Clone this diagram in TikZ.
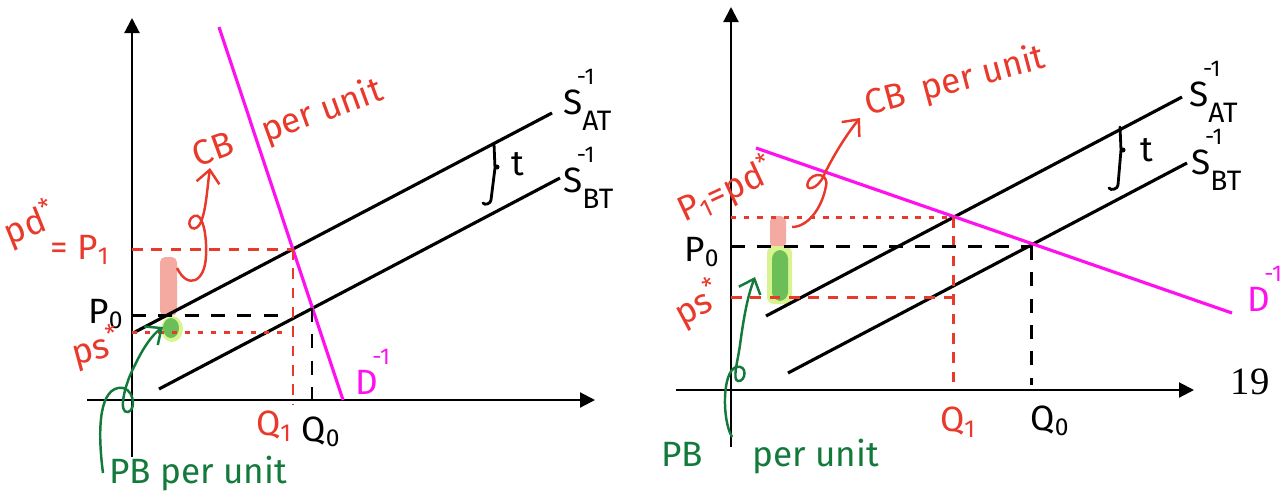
\documentclass[tikz,border=0pt]{standalone}
\usepackage{fontspec}
\setmainfont{Fira Sans}
\newfontfamily\pagefont{Liberation Serif}
\usetikzlibrary{arrows.meta, positioning, calc}
\definecolor{pen}{HTML}{E8392B}
\definecolor{magen}{HTML}{FF10EE}
\definecolor{leaf}{HTML}{137A3C}
\definecolor{blush}{HTML}{F4A9A1}
\definecolor{moss}{HTML}{6CBF58}
\definecolor{lime}{HTML}{D8F490}
% inverse curve label: letter, -1 on top, subscript below
\newcommand{\inv}[2]{#1\rlap{\hspace{-0.15em}\raisebox{0.85em}{\fontsize{13}{13}\selectfont -1}}\raisebox{-0.45em}{\fontsize{16}{16}\selectfont #2}}

\begin{document}
\begin{tikzpicture}[x=0.02cm, y=-0.02cm,
  font=\fontsize{20}{22}\selectfont,
  ax/.style={line width=1.2pt, -{Triangle[length=3mm,width=3mm]}},
  sup/.style={line width=1.8pt},
  dem/.style={line width=1.8pt, draw=magen},
  rdash/.style={line width=1.7pt, draw=pen, dash pattern=on 6pt off 5pt},
  rdot/.style={line width=1.7pt, draw=pen, dash pattern=on 3pt off 4.5pt},
  bdash/.style={line width=1.7pt, dash pattern=on 8pt off 7pt},
  curl/.style={line width=1.4pt, -{Straight Barb[length=2.6mm,width=4.6mm]}},
  tbr/.style={line width=1.6pt, line cap=round},
  note/.style={text=pen, inner sep=0pt},
  pbnote/.style={text=leaf, inner sep=1pt},
  lbl/.style={inner sep=1pt}]
\useasboundingbox (0,0) rectangle (1285,498);

% ---------------- left panel: steep demand
\coordinate (yBotL) at (132,457);
\coordinate (yTopL) at (132,18);
\coordinate (xBegL) at (87,400);
\coordinate (xEndL) at (595,400);
\coordinate (satL0) at (135,332);
\coordinate (satL1) at (552,113);
\coordinate (sbtL0) at (159,389);
\coordinate (sbtL1) at (560,178);
\coordinate (dL0) at (219,27);
\coordinate (dL1) at (343,400);
\coordinate (eaL) at (293,249);
\coordinate (ebL) at (312,308);

\fill[blush, rounded corners=3pt] (160,257) rectangle (177,316);
\fill[lime] (172,329) ellipse (11 and 13);
\fill[moss] (171,328) ellipse (8 and 10);

\draw[ax] (yBotL) -- (yTopL);
\draw[ax] (xBegL) -- (xEndL);
\draw[sup] (satL0) -- (satL1);
\draw[sup] (sbtL0) -- (sbtL1);
\draw[dem] (dL0) -- (dL1);

\draw[rdash] (eaL -| yTopL) -- (eaL);
\draw[rdash] (eaL) -- (eaL |- 0,405);
\draw[bdash] (132,315) -- (290,315);
\draw[rdot] (132,332) -- (290,332);
\draw[bdash] (ebL) -- (ebL |- xEndL);

\draw[tbr] (494,144) -- (495,168) -- (491,200) to[out=-90,in=-60] (483,203);
\fill (497,167) circle (2.5);
\node[lbl] (tL) at (518,164) {t};

\node[lbl, anchor=west] (satLabL) at (561,100) {\inv{S}{AT}};
\node[lbl, anchor=west] (sbtLabL) at (561,178) {\inv{S}{BT}};
\node[lbl, text=magen, anchor=west] (dLabL) at (353,380) {\inv{D}{}};

\node[note] (q1L) at (274,426) {Q\textsubscript{1}};
\node[lbl] (q0L) at (321,432) {Q\textsubscript{0}};
\node[lbl] (p0L) at (106,314) {P\textsubscript{0}};
\node[note, rotate=15] (psL) at (96,348) {ps\textsuperscript{*}};
\node[note, rotate=22] (pdL) at (30,224) {pd\textsuperscript{*}};
\node[note] (eqL) at (80,250) {= P\textsubscript{1}};

\node[note, rotate=20] (cbL) at (288,124) {CB\hspace{0.9em}per unit};
\coordinate (cbTipL) at (210,168);
\coordinate (cbFromL) at (177,268);
\draw[curl, pen] (cbFromL) .. controls (188,290) and (205,282) .. (206,256)
  .. controls (207,236) and (203,212) .. (194,216)
  .. controls (184,221) and (192,236) .. (200,224)
  .. controls (206,212) and (207,190) .. (cbTipL);

\node[pbnote] (pbL) at (198,474) {PB per unit};
\coordinate (pbTipL) at (163,327);
\coordinate (pbFromL) at (103,473);
\draw[curl, leaf] (pbFromL) .. controls (98,435) and (98,392) .. (118,388)
  .. controls (134,385) and (137,410) .. (128,412)
  .. controls (118,414) and (124,385) .. (135,365)
  .. controls (143,348) and (152,335) .. (pbTipL);

% ---------------- right panel: flat demand
\coordinate (yBotR) at (731,447);
\coordinate (yTopR) at (731,7);
\coordinate (xBegR) at (676,390);
\coordinate (xEndR) at (1194,390);
\coordinate (satR0) at (766,316);
\coordinate (satR1) at (1182,97);
\coordinate (sbtR0) at (788,373);
\coordinate (sbtR1) at (1187,163);
\coordinate (dR0) at (756,148);
\coordinate (dR1) at (1232,313);
\coordinate (eaR) at (953,217);
\coordinate (ebR) at (1031,246);

\fill[blush, rounded corners=3pt] (770,216) rectangle (786,248);
\fill[lime, rounded corners=4pt] (767,246) rectangle (792,304);
\fill[moss, rounded corners=5pt] (772,250) rectangle (788,301);

\draw[ax] (yBotR) -- (yTopR);
\draw[ax] (xBegR) -- (xEndR);
\draw[sup] (satR0) -- (satR1);
\draw[sup] (sbtR0) -- (sbtR1);
\draw[dem] (dR0) -- (dR1);

\draw[rdot] (eaR -| yTopR) -- (eaR);
\draw[rdash] (eaR) -- (eaR |- 0,382);
\draw[bdash] (ebR -| yTopR) -- (ebR);
\draw[bdash] (ebR) -- (ebR |- 0,385);
\draw[rdash] (731,297) -- (953,297);

\draw[tbr] (1120,127) -- (1121,150) -- (1118,185) to[out=-90,in=-60] (1109,188);
\fill (1123,150) circle (2.5);
\node[lbl] (tR) at (1147,150) {t};

\node[lbl, anchor=west] (satLabR) at (1187,92) {\inv{S}{AT}};
\node[lbl, anchor=west] (sbtLabR) at (1189,160) {\inv{S}{BT}};
\node[lbl, text=magen, anchor=west] (dLabR) at (1245,297) {\inv{D}{}};

\node[note] (q1R) at (958,422) {Q\textsubscript{1}};
\node[lbl] (q0R) at (1050,421) {Q\textsubscript{0}};
\node[lbl] (p0R) at (702,252) {P\textsubscript{0}};
\node[note, rotate=28] (psR) at (698,304) {ps\textsuperscript{*}};
\node[note, rotate=25] (p1R) at (726,190) {P\textsubscript{1}=pd\textsuperscript{*}};

\node[note, rotate=15] (cbR) at (955,82) {CB\hspace{0.5em}per unit};
\coordinate (cbTipR) at (860,118);
\coordinate (cbFromR) at (792,227);
\draw[curl, pen] (cbFromR) .. controls (808,227) and (822,208) .. (826,186)
  .. controls (829,172) and (812,172) .. (808,182)
  .. controls (804,192) and (818,190) .. (824,175)
  .. controls (835,152) and (850,130) .. (cbTipR);

\node[pbnote] (pbR) at (770,457) {PB\hspace{1.4em}per unit};
\coordinate (pbTipR) at (755,277);
\coordinate (pbFromR) at (732,437);
\draw[curl, leaf] (pbFromR) .. controls (722,420) and (722,372) .. (736,367)
  .. controls (748,364) and (746,382) .. (738,381)
  .. controls (732,380) and (738,360) .. (740,345)
  .. controls (744,315) and (748,295) .. (pbTipR);

\node[lbl, font=\pagefont\fontsize{22}{22}\selectfont] (pageNo) at (1250,382) {19};
\end{tikzpicture}
\end{document}
